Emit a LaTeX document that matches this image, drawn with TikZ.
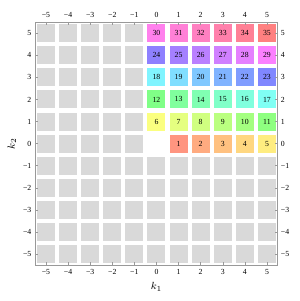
\PassOptionsToPackage{rgb}{xcolor}
\documentclass[tikz,border=0pt]{standalone}
\usepackage{fontspec}
\setmainfont{Liberation Serif}
\begin{document}
\begin{tikzpicture}[x=6mm,y=6mm,every node/.style={font=\fontsize{6}{7}\selectfont,inner sep=0pt},celda/.style={minimum size=4.9mm},vacia/.style={celda,fill=black!15},eje/.style={draw=black!40,line width=0.4pt}]
\useasboundingbox (-7.08,-7.12) rectangle (6.49,6.50);
\foreach \i in {-5,...,5}{\foreach \j in {-5,...,5}{%
  \pgfmathtruncatemacro\n{6*\j+\i}
  \pgfmathtruncatemacro\fuera{(\i<0)||(\j<0)}
  \ifnum\fuera=1 \node[vacia] (k\i-\j) at (\i,\j) {};
  \else\ifnum\n>0 \pgfmathsetmacro\h{min(\n/35,0.999)}\definecolor{tono}{hsb}{\h,0.5,1}%
    \node[celda,fill=tono] (k\i-\j) at (\i,\j) {\n};\fi\fi}}
\draw[eje] (-5.485,-5.485) rectangle (5.485,5.485);
\foreach \t/\s in {-5/−5,-4/−4,-3/−3,-2/−2,-1/−1,0/0,1/1,2/2,3/3,4/4,5/5}{
  \draw[eje] (\t,-5.485) -- ++(0,0.13);\draw[eje] (\t,5.485) -- ++(0,-0.13);
  \draw[eje] (-5.485,\t) -- ++(0.13,0);\draw[eje] (5.485,\t) -- ++(-0.13,0);
  \node (b\t) at (\t,-5.82) {\s};\node (t\t) at (\t,5.82) {\s};
  \node[anchor=east] (l\t) at (-5.65,\t) {\s};\node[anchor=west] (r\t) at (5.62,\t) {\s};}
\node[font=\fontsize{8}{9}\selectfont] (x) at (0,-6.48) {$k_1$};
\node[font=\fontsize{8}{9}\selectfont,rotate=90] (y) at (-6.54,0) {$k_2$};
\end{tikzpicture}
\end{document}
